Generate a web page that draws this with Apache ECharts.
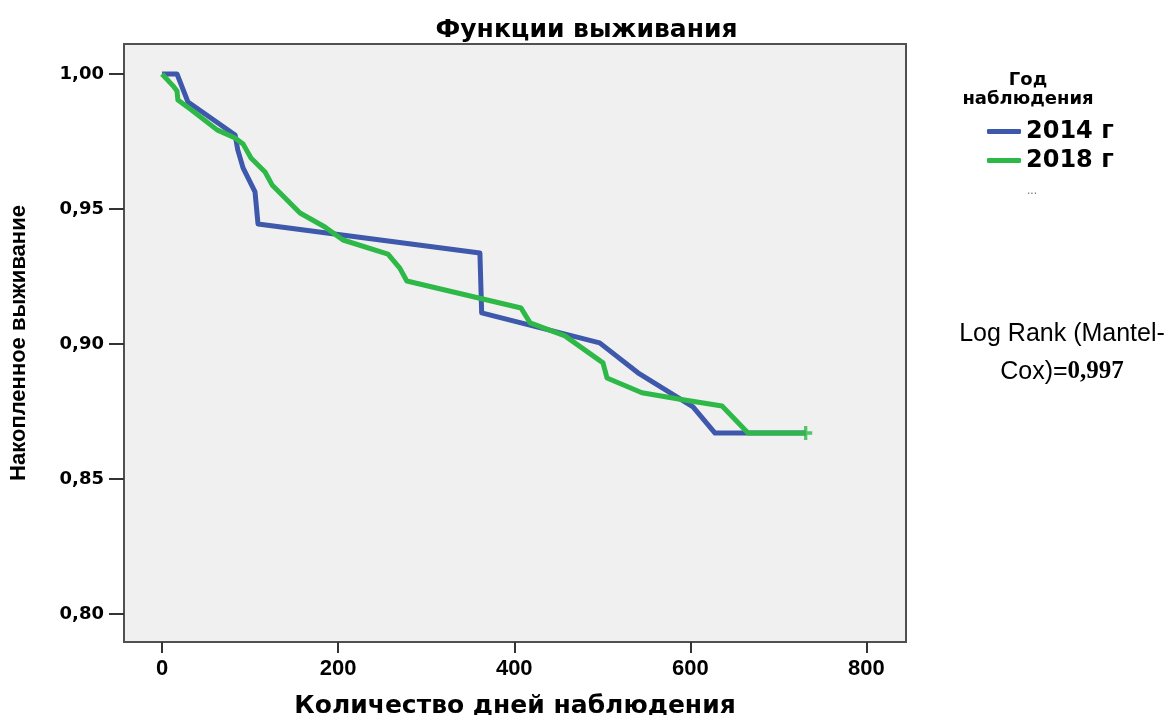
<!DOCTYPE html>
<html><head><meta charset="utf-8">
<script src="https://cdn.jsdelivr.net/npm/echarts@6/dist/echarts.min.js"></script>
<style>html,body{margin:0;padding:0;background:#fff}#c{width:1173px;height:715px}</style>
</head><body><div id="c"></div>
<script>
// ---- data ----
const xTicks = [0, 200, 400, 600, 800];
const yTicks = [0.80, 0.85, 0.90, 0.95, 1.00];
const seriesNames = ['2014 г', '2018 г'];

const days2014 = [0, 17, 29.5, 83, 86, 92, 105.6, 109, 361, 363, 497, 540.5, 603, 628, 731];
const surv2014 = [1.0, 1.0, 0.9896, 0.9774, 0.9719, 0.9652, 0.9563, 0.9444, 0.9337, 0.9115, 0.9004, 0.8893, 0.8767, 0.8670, 0.8670];

const days2018 = [0, 12.5, 17, 18, 32, 62.5, 83, 92, 101, 117, 125, 156.7, 185, 205.5, 256.6, 270, 278, 407.7, 418, 457.6, 500.8, 505.3, 545, 591.6, 636, 665.5, 731];
const surv2018 = [1.0, 0.9956, 0.9937, 0.9904, 0.9870, 0.9793, 0.9763, 0.9741, 0.9689, 0.9637, 0.9589, 0.9485, 0.9433, 0.9385, 0.9333, 0.9281, 0.9233, 0.9133, 0.9078, 0.9030, 0.8930, 0.8874, 0.8819, 0.8793, 0.8770, 0.8670, 0.8670];

const censorDays2018 = [731];
const censorSurv2018 = [0.8670];

const chartTitle = 'Функции выживания';
const legendTitle = 'Год\nнаблюдения';
const xName = 'Количество дней наблюдения';
const yName = 'Накопленное выживание';
const logRankValue = '0,997';

// ---- build ----
const zip = (a, b) => a.map((v, i) => [v, b[i]]);
const BLUE = '#3e58ac', GREEN = '#2eb848';
const plus = 'path://M-1.5,-6 H1.5 V-1.5 H6 V1.5 H1.5 V6 H-1.5 V1.5 H-6 V-1.5 H-1.5 Z';

const chart = echarts.init(document.getElementById('c'), null, {renderer: 'canvas'});
chart.setOption({
  backgroundColor: '#ffffff',
  animation: false,
  title: [
    {text: chartTitle, left: 'center', top: 13,
     textStyle: {fontFamily: 'DejaVu Sans', fontWeight: 'bold', fontSize: 25, color: '#000'}},
    {text: legendTitle, left: 1028, top: 71, textAlign: 'center', padding: 0,
     textStyle: {fontFamily: 'DejaVu Sans', fontWeight: 'bold', fontSize: 18, lineHeight: 19, color: '#000'}},
    {text: '{a|Log Rank (Mantel-}\n{a|Cox)=}{b|' + logRankValue + '}', left: 1062, top: 315, textAlign: 'center', padding: 0,
     textStyle: {fontWeight: 'normal', rich: {
       a: {fontFamily: 'Liberation Sans', fontWeight: 'normal', fontSize: 25, lineHeight: 38, color: '#000'},
       b: {fontFamily: 'Liberation Serif', fontWeight: 'bold', fontSize: 25, lineHeight: 38, color: '#000'}
     }}}
  ],
  legend: {
    data: seriesNames, orient: 'vertical', left: 987, top: 119, padding: 0,
    itemWidth: 34, itemHeight: 5, itemGap: 4, icon: 'roundRect',
    textStyle: {fontFamily: 'DejaVu Sans', fontWeight: 'bold', fontSize: 24, lineHeight: 25, color: '#000'}
  },
  graphic: [{type: 'text', left: 1027, top: 185, style: {text: '...', fill: '#777', font: '12px Liberation Sans'}}],
  grid: {left: 124, right: 267, top: 44, bottom: 73, show: true, containLabel: false, outerBoundsMode: 'none',
         backgroundColor: '#f0f0f0', borderColor: '#505050', borderWidth: 2},
  xAxis: {
    type: 'value', min: -43.2, max: 844.9,
    name: xName, nameLocation: 'middle', nameGap: 52,
    nameTextStyle: {fontFamily: 'DejaVu Sans', fontWeight: 'bold', fontSize: 25, color: '#000'},
    axisLine: {show: false, onZero: false},
    axisTick: {show: true, customValues: xTicks, length: 11, lineStyle: {color: '#333', width: 2}},
    axisLabel: {customValues: xTicks, margin: 16, fontFamily: 'Liberation Sans', fontWeight: 'bold', fontSize: 22, color: '#000'},
    splitLine: {show: false}
  },
  yAxis: {
    type: 'value', min: 0.7896, max: 1.0111,
    name: yName, nameLocation: 'middle', nameGap: 94, nameRotate: 90,
    nameTextStyle: {fontFamily: 'Liberation Sans', fontWeight: 'bold', fontSize: 22, color: '#000'},
    axisLine: {show: false, onZero: false},
    axisTick: {show: true, customValues: yTicks, length: 15, lineStyle: {color: '#333', width: 2}},
    axisLabel: {customValues: yTicks, margin: 20, fontFamily: 'DejaVu Sans', fontWeight: 'bold', fontSize: 18, color: '#000',
      formatter: v => v.toFixed(2).replace('.', ',')},
    splitLine: {show: false}
  },
  series: [
    {name: seriesNames[0], type: 'line', data: zip(days2014, surv2014), showSymbol: false, symbol: 'none',
     color: BLUE, lineStyle: {color: BLUE, width: 5, join: 'round'}, z: 2},
    {name: seriesNames[1], type: 'line', data: zip(days2018, surv2018), showSymbol: false, symbol: 'none',
     color: GREEN, lineStyle: {color: GREEN, width: 5, join: 'round'}, z: 3},
    {name: 'censor', type: 'scatter', data: zip(censorDays2018, censorSurv2018), symbol: plus, symbolSize: [13, 14],
     itemStyle: {color: GREEN}, z: 4, silent: true}
  ]
});
</script></body></html>
